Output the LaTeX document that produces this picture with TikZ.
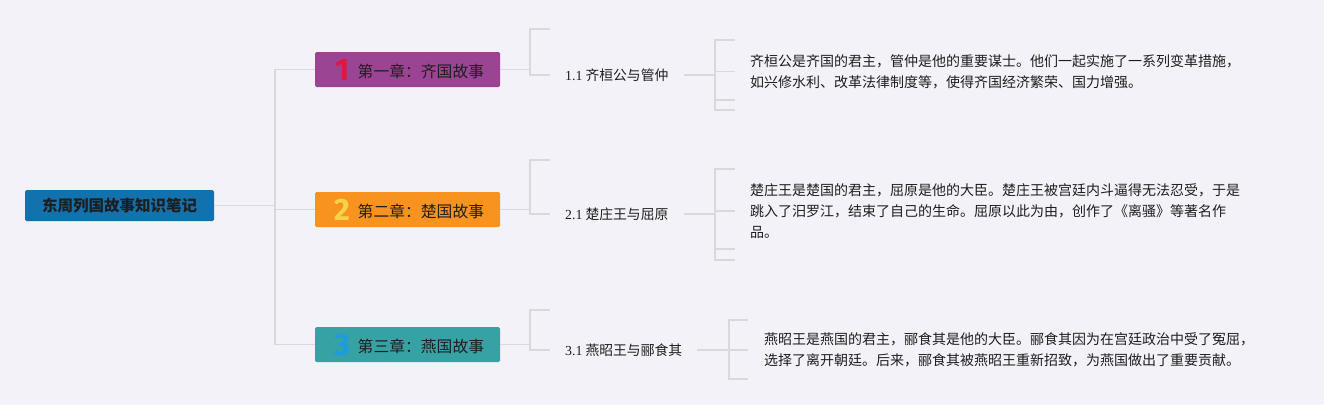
\documentclass[tikz,border=0pt]{standalone}
\usepackage{fontspec}
\setmainfont{Noto Sans CJK SC}
\newfontfamily\latserif{Liberation Serif}
\newfontfamily\digitfont{Fira Sans}
\definecolor{bgc}{HTML}{F3F2F8}
\definecolor{linec}{HTML}{D8D8DD}
\definecolor{rootc}{HTML}{1272AE}
\definecolor{chA}{HTML}{9C4494}
\definecolor{chB}{HTML}{F7931E}
\definecolor{chC}{HTML}{36A2A4}
\definecolor{numA}{HTML}{E0173E}
\definecolor{numB}{HTML}{F5D547}
\definecolor{numC}{HTML}{1E9BE0}
\definecolor{txt}{HTML}{1E1E1E}
\tikzset{
  conn/.style={draw=linec, line width=1.4pt},
  rootbox/.style={rectangle, rounded corners=1.5pt, fill=rootc, minimum width=189pt, minimum height=31pt, inner sep=0pt, text=txt, font=\bfseries\fontsize{15.5}{18}\selectfont},
  chapbox/.style={rectangle, rounded corners=1.5pt, minimum width=185pt, minimum height=35pt, inner sep=0pt},
  numd/.style={inner sep=0pt, font=\digitfont\bfseries\fontsize{31}{31}\selectfont},
  chaptext/.style={anchor=west, inner sep=0pt, text=txt, font=\fontsize{15.8}{18}\selectfont},
  subnode/.style={anchor=west, inner xsep=15pt, inner ysep=2pt, text=txt, font=\fontsize{13.8}{17}\selectfont},
  detail/.style={anchor=west, inner xsep=15pt, inner ysep=2pt, align=left, text=txt, font=\fontsize{14}{21}\selectfont}
}
\begin{document}
\begin{tikzpicture}[x=1pt, y=-1pt]
\useasboundingbox (0,0) rectangle (1324,405);
\fill[bgc] (0,0) rectangle (1324,405);

% root
\node[rootbox] (root) at (119.5,205.5) {东周列国故事知识笔记};

% chapters
\node[chapbox, fill=chA] (c1) at (407.5,69.5) {};
\node[numd, text=numA] (n1) at (342,70) {1};
\node[chaptext] (t1) at (357.5,71) {第一章：齐国故事};

\node[chapbox, fill=chB] (c2) at (407.5,209.5) {};
\node[numd, text=numB] (n2) at (342,210) {2};
\node[chaptext] (t2) at (357.5,211) {第二章：楚国故事};

\node[chapbox, fill=chC] (c3) at (407.5,344.5) {};
\node[numd, text=numC] (n3) at (342,345) {3};
\node[chaptext] (t3) at (357.5,346) {第三章：燕国故事};

\coordinate (j0) at (275,205.5);
\draw[conn] (root.east) -- (j0);
\draw[conn] (j0) |- (c1.west);
\draw[conn] (j0) |- (c2.west);
\draw[conn] (j0) |- (c3.west);

% chapter 1 branch
\coordinate (j1) at (530,69.5);
\coordinate (e1) at (550,29);
\node[subnode] (s1) at (550,75) {{\latserif 1.1} 齐桓公与管仲};
\draw[conn] (c1.east) -- (j1);
\draw[conn] (j1) |- (e1);
\draw[conn] (j1) |- (s1.west);

\coordinate (k1) at (715,75);
\coordinate (f1a) at (735,40);
\coordinate (f1b) at (735,100);
\coordinate (f1c) at (735,110);
\node[detail] (d1) at (735,71.5) {齐桓公是齐国的君主，管仲是他的重要谋士。他们一起实施了一系列变革措施，\\如兴修水利、改革法律制度等，使得齐国经济繁荣、国力增强。};
\draw[conn] (s1.east) -- (k1);
\draw[conn] (k1) |- (f1a);
\draw[conn] (k1) |- (d1.west);
\draw[conn] (k1) |- (f1b);
\draw[conn] (k1) |- (f1c);

% chapter 2 branch
\coordinate (j2) at (530,209.5);
\coordinate (e2) at (550,160);
\node[subnode] (s2) at (550,214) {{\latserif 2.1} 楚庄王与屈原};
\draw[conn] (c2.east) -- (j2);
\draw[conn] (j2) |- (e2);
\draw[conn] (j2) |- (s2.west);

\coordinate (k2) at (715,214);
\coordinate (f2a) at (735,169);
\coordinate (f2b) at (735,249);
\coordinate (f2c) at (735,260);
\node[detail] (d2) at (735,211) {楚庄王是楚国的君主，屈原是他的大臣。楚庄王被宫廷内斗逼得无法忍受，于是\\跳入了汨罗江，结束了自己的生命。屈原以此为由，创作了《离骚》等著名作\\品。};
\draw[conn] (s2.east) -- (k2);
\draw[conn] (k2) |- (f2a);
\draw[conn] (k2) |- (d2.west);
\draw[conn] (k2) |- (f2b);
\draw[conn] (k2) |- (f2c);

% chapter 3 branch
\coordinate (j3) at (530,344.5);
\coordinate (e3) at (550,310);
\node[subnode] (s3) at (550,350) {{\latserif 3.1} 燕昭王与郦食其};
\draw[conn] (c3.east) -- (j3);
\draw[conn] (j3) |- (e3);
\draw[conn] (j3) |- (s3.west);

\coordinate (k3) at (729,350);
\coordinate (f3a) at (748,320);
\coordinate (f3b) at (748,379);
\node[detail, inner xsep=16pt] (d3) at (748,350) {燕昭王是燕国的君主，郦食其是他的大臣。郦食其因为在宫廷政治中受了冤屈，\\选择了离开朝廷。后来，郦食其被燕昭王重新招致，为燕国做出了重要贡献。};
\draw[conn] (s3.east) -- (k3);
\draw[conn] (k3) |- (f3a);
\draw[conn] (k3) |- (d3.west);
\draw[conn] (k3) |- (f3b);
\end{tikzpicture}
\end{document}
